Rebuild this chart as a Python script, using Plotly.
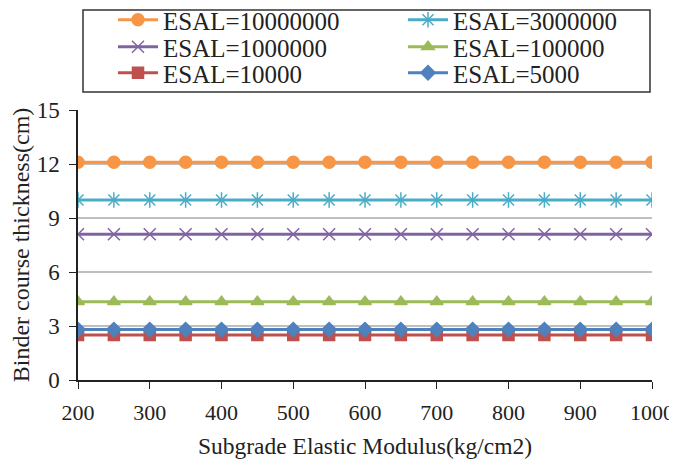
import plotly.graph_objects as go

x_vals = [200, 250, 300, 350, 400, 450, 500, 550, 600, 650, 700, 750, 800, 850, 900, 950, 1000]
series_names = ["ESAL=10000000", "ESAL=3000000", "ESAL=1000000", "ESAL=100000", "ESAL=10000", "ESAL=5000"]
esal_10000000 = [12.1] * 17
esal_3000000 = [10.0] * 17
esal_1000000 = [8.1] * 17
esal_100000 = [4.35] * 17
esal_10000 = [2.5] * 17
esal_5000 = [2.8] * 17
series_values = [esal_10000000, esal_3000000, esal_1000000, esal_100000, esal_10000, esal_5000]

colors = ["#F79646", "#4BACC6", "#8064A2", "#9BBB59", "#C0504D", "#4F81BD"]
symbols = ["circle", "asterisk-open", "x-thin-open", "triangle-up", "square", "diamond"]
sizes = [12, 13, 12, 11, 11, 11]

font_fam = "Liberation Serif, Times New Roman, serif"

# page body has an 8px margin, so the figure is 8px smaller than the window
W, H = 669, 460
L, T, R, B = 70, 102, 25, 88
PW, PH = W - L - R, H - T - B

legend_ids = ["legend", "legend2", "legend3", "legend4", "legend5", "legend6"]
col_x = [(105 - L) / PW, (395 - L) / PW]
row_y = [(H - B - 12) / PH, (H - B - 39) / PH, (H - B - 65) / PH]

fig = go.Figure()
for i, (name, vals, c, s, sz) in enumerate(zip(series_names, series_values, colors, symbols, sizes)):
    fig.add_trace(go.Scatter(
        x=x_vals, y=vals, name=name, mode="lines+markers", legend=legend_ids[i],
        line=dict(color=c, width=3),
        marker=dict(symbol=s, size=sz, color=c, line=dict(color=c, width=1.5)),
    ))

legend_layout = {}
for i, lid in enumerate(legend_ids):
    legend_layout[lid] = dict(
        x=col_x[i % 2], y=row_y[i // 2], xanchor="left", yanchor="middle",
        font=dict(family=font_fam, size=25, color="#222222"),
        bgcolor="rgba(0,0,0,0)", borderwidth=0, itemwidth=40,
    )

fig.update_layout(
    width=W, height=H,
    margin=dict(l=L, r=R, t=T, b=B, autoexpand=False),
    paper_bgcolor="white", plot_bgcolor="white",
    font=dict(family=font_fam, color="#222222", size=22),
    showlegend=True,
    **legend_layout,
    xaxis=dict(
        range=[200, 1000], tickmode="array", tickvals=list(range(200, 1001, 100)),
        showline=True, linecolor="#222222", linewidth=1.5, automargin=False,
        ticks="outside", ticklen=7, tickcolor="#222222", showgrid=False, zeroline=False,
        tickfont=dict(size=22), ticklabelstandoff=5,
        title=dict(text="Subgrade Elastic Modulus(kg/cm2)", font=dict(size=23.5), standoff=13),
    ),
    yaxis=dict(
        range=[0, 15], tickmode="array", tickvals=[0, 3, 6, 9, 12, 15],
        showline=True, linecolor="#222222", linewidth=1.5, automargin=False,
        ticks="outside", ticklen=7, tickcolor="#222222",
        showgrid=True, gridcolor="#BFBFBF", gridwidth=1.5, zeroline=False,
        tickfont=dict(size=23), ticklabelstandoff=5,
        title=dict(text="Binder course thickness(cm)", font=dict(size=24), standoff=0),
    ),
    shapes=[dict(type="rect", xref="paper", yref="paper",
                 x0=(75 - L) / PW, x1=(642 - L) / PW,
                 y0=(H - B - 84) / PH, y1=(H - B - 2) / PH,
                 line=dict(color="#333333", width=1.5))],
)

fig.write_html("out.html")
